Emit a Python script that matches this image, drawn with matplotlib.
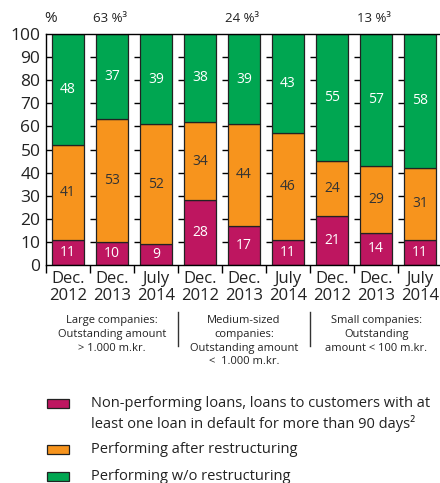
import matplotlib
matplotlib.use("Agg")
import matplotlib.pyplot as plt
from matplotlib.transforms import blended_transform_factory
from matplotlib.patches import Rectangle
import numpy as np

plt.rcParams['font.family'] = ['Open Sans', 'DejaVu Sans']

periods = ["Dec.\n2012", "Dec.\n2013", "July\n2014"] * 3
non_performing = [11, 10, 9, 28, 17, 11, 21, 14, 11]
after_restructuring = [41, 53, 52, 34, 44, 46, 24, 29, 31]
without_restructuring = [48, 37, 39, 38, 39, 43, 55, 57, 58]
group_labels = ["Large companies:\nOutstanding amount\n> 1.000 m.kr.",
                "Medium-sized\ncompanies:\nOutstanding amount\n<  1.000 m.kr.",
                "Small companies:\nOutstanding\namount < 100 m.kr."]
group_shares = ["63 %³", "24 %³", "13 %³"]
series_names = ["Non-performing loans, loans to customers with at\nleast one loan in default for more than 90 days²",
                "Performing after restructuring",
                "Performing w/o restructuring"]

c_np = "#BE1660"
c_ar = "#F7941D"
c_wr = "#00A651"
colors = [c_np, c_ar, c_wr]

fig = plt.figure(figsize=(4.4, 4.83), dpi=100)
ax = fig.add_axes([46/440, 1-265/483, 1-46/440, (265-34)/483])

x = np.arange(len(periods))
w = 0.73
np_arr = np.array(non_performing)
ar_arr = np.array(after_restructuring)
wr_arr = np.array(without_restructuring)

# short tick dashes in the gaps (behind bars)
for k in range(len(periods)):
    for yv in range(10, 100, 10):
        ax.plot([k - 0.5, k - w/2], [yv, yv], color="black", lw=1, zorder=1, solid_capstyle='butt')

ekw = dict(edgecolor="#222222", linewidth=0.9, zorder=2)
b1 = ax.bar(x, np_arr, w, color=c_np, **ekw)
b2 = ax.bar(x, ar_arr, w, bottom=np_arr, color=c_ar, **ekw)
b3 = ax.bar(x, wr_arr, w, bottom=np_arr + ar_arr, color=c_wr, **ekw)

for i in range(len(periods)):
    ax.text(x[i], np_arr[i]/2, str(np_arr[i]), ha='center', va='center', color='white', fontsize=10, zorder=3)
    ax.text(x[i], np_arr[i] + ar_arr[i]/2, str(ar_arr[i]), ha='center', va='center', color='#333333', fontsize=10, zorder=3)
    ax.text(x[i], np_arr[i] + ar_arr[i] + wr_arr[i]/2, str(wr_arr[i]), ha='center', va='center', color='white', fontsize=10, zorder=3)

ax.set_xlim(-0.5, 8.45)
ax.set_ylim(0, 100)
ax.set_yticks(range(0, 101, 10))
ax.tick_params(axis='y', labelsize=12.5, direction='in', length=0, pad=4, colors='#222222')
ax.set_xticks(x - 0.5, minor=False)
ax.set_xticklabels([])
ax.set_xticks(x, minor=True)
ax.set_xticklabels(periods, minor=True, fontsize=12, linespacing=1.1)
ax.tick_params(axis='x', which='major', direction='out', length=6, width=1)
ax.tick_params(axis='x', which='minor', length=0, pad=4, colors='#222222')
for s in ['left', 'top', 'bottom']:
    ax.spines[s].set_linewidth(1.0)
ax.spines['right'].set_visible(False)

trans = blended_transform_factory(ax.transData, fig.transFigure)
ax.text(-0.39, 1-18/483, "%", transform=trans, ha='center', va='center', fontsize=11, color='#222222')
for g, lab in enumerate(group_shares):
    ax.text(3*g + 1 - 0.05, 1-18/483, lab, transform=trans, ha='center', va='center', fontsize=9.5, color='#222222')

for g, lab in enumerate(group_labels):
    ax.text(3*g + 1, 1-315/483, lab, transform=trans, ha='center', va='top', fontsize=8, color='#222222', linespacing=1.35)
for sx in [2.5, 5.5]:
    ax.plot([sx, sx], [1-312/483, 1-346/483], transform=trans, color='#333333', lw=1, clip_on=False)

# legend (manual, handles aligned with first text line)
legend_y = [403, 449, 476]
for lab, col, yy in zip(series_names, colors, legend_y):
    fig.patches.append(Rectangle((47/440, 1-(yy+4.5)/483), 22/440, 9/483, transform=fig.transFigure,
                                 facecolor=col, edgecolor='#222222', linewidth=0.9))
    fig.text(91/440, 1-(yy-7)/483, lab, ha='left', va='top', fontsize=10.5, color='#222222', linespacing=1.3)

fig.savefig("out.png", dpi=100)
